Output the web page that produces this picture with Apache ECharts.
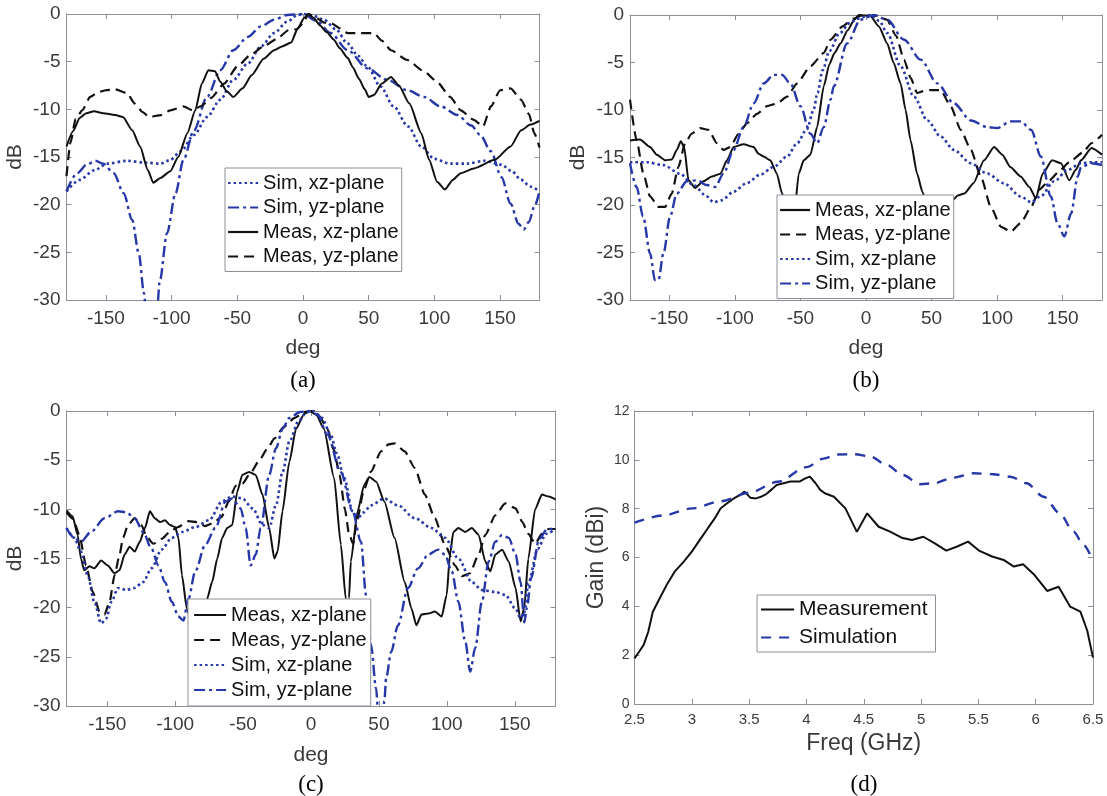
<!DOCTYPE html>
<html><head><meta charset="utf-8">
<script src="https://cdn.jsdelivr.net/npm/echarts@6/dist/echarts.min.js"></script>
<style>html,body{margin:0;padding:0;background:#fff;}#c{width:1107px;height:796px;}</style>
</head><body><div id="c"></div>
<script>
// ---------- tick labels ----------
const degTicks = [-150, -100, -50, 0, 50, 100, 150];
const panelCaptions = ['(a)', '(b)', '(c)', '(d)'];

// ---------- panel (a) : [deg, dB] ----------
const aSimXz = [[-180,-18.6],[-170,-17.4],[-159,-16.4],[-149,-15.7],[-134,-15.4],[-119,-15.6],[-108.5,-15.7],[-101,-15.3],[-93,-14.4],[-83,-12.7],[-73,-10.8],[-63,-9.0],[-53,-6.9],[-42,-5.2],[-32,-3.4],[-22,-2.0],[-12,-0.8],[-4,-0.1],[2,0],[8,-0.2],[16,-0.6],[25,-1.6],[34,-3.1],[42,-4.4],[49,-5.5],[59,-7.6],[69,-9.7],[80,-11.8],[90,-13.9],[100,-15.2],[112,-15.7],[125,-15.7],[138,-15.4],[151,-15.8],[159,-16.5],[166,-17.4],[173,-18.1],[180,-18.6]];
const aSimYz = [[-180,-18.6],[-172,-16.7],[-164.5,-15.8],[-158,-15.4],[-152,-15.7],[-144,-16.7],[-136.5,-18.8],[-130,-21.6],[-125,-25.1],[-121,-29.3],[-118,-35],[-115,-38],[-112,-33],[-109,-28],[-103.5,-23.0],[-97,-18.8],[-91,-15.3],[-83,-12.2],[-73,-8.7],[-63,-5.9],[-53,-3.8],[-42,-2.4],[-32,-1.3],[-22,-0.6],[-12,-0.1],[0,0],[10,-0.7],[21,-2.0],[34,-3.8],[49,-5.7],[64,-6.9],[79.5,-8.0],[92,-8.7],[105,-9.7],[117.6,-10.6],[128,-11.7],[135,-12.7],[143,-14.4],[151,-17.1],[158,-19.9],[164,-22.0],[168,-22.6],[172,-21.8],[176,-20.2],[180,-18.6]];
const aMeasXz = [[-180,-13.9],[-175,-12.3],[-170,-10.9],[-165,-10.4],[-159,-10.2],[-152,-10.4],[-143,-10.6],[-137,-10.8],[-130,-12.2],[-124,-13.9],[-118,-16.4],[-114,-17.7],[-108.5,-17.2],[-101,-16.5],[-95,-15.0],[-88,-12.5],[-82,-10.1],[-77,-7.3],[-72,-5.9],[-67,-6.0],[-63,-7.1],[-58,-8.1],[-53,-8.7],[-46,-7.8],[-39,-6.4],[-30,-4.7],[-22,-3.8],[-16,-3.4],[-9,-3.0],[-4,-1.5],[1,-0.4],[4,0],[8,-0.4],[13,-1.2],[18,-1.9],[23.5,-2.7],[28,-3.6],[34,-4.6],[38,-5.6],[42.6,-6.8],[47,-7.9],[50,-8.7],[54,-8.5],[60,-7.3],[67,-6.6],[73,-7.5],[81,-9.4],[90,-12.5],[96,-15.3],[102,-17.6],[108,-18.4],[114,-17.4],[120,-16.7],[130,-16.2],[146,-15.3],[158,-13.9],[166,-12.2],[173,-11.6],[180,-11.2]];
const aMeasYz = [[-180,-17.0],[-177,-13.5],[-173,-11],[-168,-10.1],[-162,-8.7],[-156,-8.2],[-150,-8.0],[-143,-7.9],[-134,-8.3],[-128,-9.4],[-122,-10.3],[-117,-10.8],[-108,-10.6],[-101,-10.1],[-91,-9.7],[-84,-10.1],[-78,-9.7],[-70,-8.8],[-60,-7.3],[-50,-5.5],[-40,-4.3],[-30,-3.4],[-20,-2.6],[-11,-1.7],[-5,-1.6],[0,-1.0],[4,0],[10,-0.4],[16,-0.9],[22,-1.0],[28,-1.5],[34,-2.0],[44,-2.0],[54,-2.0],[60,-2.8],[67,-3.8],[79,-4.8],[92,-6.0],[102,-7.1],[112,-8.7],[120,-10.1],[130,-11.1],[137,-11.8],[143,-9.7],[150,-8.0],[158,-7.8],[166,-9.0],[172,-10.5],[176,-12.5],[180,-14.0]];

// ---------- panel (b) ----------
const bMeasXz = [[-180,-13.2],[-172.4,-13.1],[-164.7,-13.9],[-159.6,-14.7],[-153,-15.3],[-148,-15.2],[-144.3,-14.2],[-141.3,-13.3],[-138.7,-13.9],[-135.4,-17.4],[-130.3,-18.2],[-124,-17.5],[-117.6,-17.0],[-111,-16.7],[-106,-15.3],[-101,-13.9],[-93.4,-13.6],[-85.7,-13.9],[-82,-14.6],[-78,-14.9],[-73,-15.3],[-68,-16.7],[-64,-18.8],[-59,-21],[-55,-21.5],[-51.3,-16.7],[-47.5,-15.3],[-42.4,-14.7],[-37.3,-11.8],[-32.2,-7.5],[-28,-5.2],[-24,-4.0],[-19.5,-3.0],[-14,-1.6],[-9,-0.5],[-5.5,0],[3.4,-0.1],[9.8,-1.2],[16.2,-3.0],[21,-5.0],[26.4,-7.2],[30.2,-10],[34,-13.2],[39,-16.7],[43,-18.6],[48,-21],[57,-22],[66,-19.5],[70,-19.0],[75,-18.8],[82,-17.7],[90,-15.3],[97.7,-13.9],[104,-14.7],[110,-16.0],[118,-17.0],[124.5,-18.1],[129.6,-19.3],[134.7,-16.7],[142,-15.3],[148.7,-15.6],[155,-17.4],[160,-16.3],[164,-15.3],[172,-14.0],[180,-14.7]];
const bMeasYz = [[-180,-8.9],[-174.9,-13.2],[-169.8,-16.7],[-164.7,-19.1],[-158.3,-20.2],[-153.2,-20.2],[-148.2,-18.8],[-143.1,-16.0],[-138,-13.5],[-133,-12.5],[-126.5,-11.9],[-120,-12.1],[-113.8,-13.5],[-108.7,-14.2],[-103.6,-13.9],[-97.2,-12.5],[-90.8,-11.4],[-83.2,-10.4],[-75.5,-9.6],[-68,-9.3],[-60.2,-8.6],[-52.6,-7.2],[-42.4,-5.4],[-32.2,-4.0],[-27,-2.6],[-18,-1.2],[-10,-0.4],[-2,0],[8,-0.1],[16,-0.5],[23,-2.2],[29,-4.7],[34,-6.6],[39,-8.2],[44,-8.0],[49,-7.9],[57,-7.9],[64.6,-9.6],[72.3,-12.1],[80,-14.2],[87.6,-17.0],[95.2,-20.2],[103,-22.3],[110.5,-22.8],[118,-21.9],[126,-20.2],[132,-18.4],[140,-17.4],[147,-16.5],[155,-15.5],[165,-14.5],[172,-13.5],[180,-12.6]];
const bSimXz = [[-180,-15.5],[-167,-15.5],[-154.5,-15.8],[-142,-16.7],[-131.6,-17.9],[-121.4,-19.1],[-116.3,-19.7],[-110,-19.5],[-101,-18.6],[-91,-17.7],[-80.6,-16.8],[-70.4,-16.0],[-60.2,-14.9],[-52.6,-13.5],[-45,-12.0],[-40,-10.0],[-37,-8.2],[-33,-5.8],[-28,-3.8],[-20,-1.9],[-12,-0.8],[-6.8,-0.4],[3.4,0],[10,-0.6],[16.2,-1.9],[26.4,-5.4],[36.6,-8.6],[46.8,-11.1],[57,-12.8],[67,-14.2],[80,-15.6],[92.6,-16.7],[105,-17.7],[118,-19.1],[126,-19.7],[133,-19.1],[143.6,-17.5],[153.8,-16.3],[164,-15.6],[172,-15.5],[180,-15.5]];
const bSimYz = [[-180,-15.6],[-175,-18.1],[-170,-21.2],[-164.7,-25.1],[-161,-27.9],[-158.3,-27.9],[-154.5,-25.1],[-149.4,-21.2],[-144.3,-18.8],[-136.7,-17.5],[-129,-17.4],[-121.4,-17.9],[-115,-18.1],[-108.7,-16.7],[-101,-14.2],[-93.4,-11.8],[-85.7,-9.3],[-78,-7.2],[-70.4,-6.3],[-64,-6.3],[-57.7,-7.2],[-50,-9.6],[-42.4,-12.5],[-37.3,-13.5],[-32.2,-11.8],[-27,-8.9],[-24.6,-7.5],[-14.4,-3.0],[-4.2,-0.5],[6,0],[16.2,-0.5],[29,-2.6],[41.7,-4.7],[54.4,-7.2],[67,-9.3],[80,-11.1],[92.6,-11.8],[100,-11.9],[110.4,-11.2],[118,-11.2],[126,-12.1],[133.4,-14.9],[141,-19.1],[146,-21.9],[151.3,-23.3],[156.4,-20.9],[161.5,-17.0],[164,-16.0],[172,-15.6],[180,-15.8]];

// ---------- panel (c) ----------
const cMeasXz = [[-180,-10.1],[-175.5,-10.7],[-171.8,-12.6],[-169.4,-15.0],[-167,-16.2],[-163,-15.8],[-159.5,-16.0],[-154.5,-15.2],[-149.6,-15.7],[-144.6,-16.5],[-141,-16.2],[-137.2,-14.6],[-133.5,-13.8],[-129.8,-14.3],[-126,-13.3],[-122.3,-11.9],[-118.6,-10.2],[-115,-10.9],[-111,-11.3],[-107.5,-11.1],[-103.8,-11.6],[-100,-11.8],[-97.6,-12.9],[-95,-16.7],[-91.4,-20.1],[-87,-22],[-82,-22],[-78,-20.5],[-76.5,-19.1],[-72.8,-17.4],[-69,-15.0],[-65.4,-12.9],[-61.7,-11.9],[-58,-11.6],[-54.3,-8.2],[-50.6,-6.5],[-45.6,-6.2],[-40.7,-6.5],[-35.7,-8.5],[-30.8,-11.9],[-27,-15.0],[-24.6,-14.3],[-21,-10.2],[-16,-5.2],[-11,-1.8],[-5,-0.3],[-1,0],[4,-0.4],[9.5,-1.8],[17,-6.8],[22,-13.6],[25.6,-19.1],[27,-21],[28,-19],[29.3,-15.3],[34.3,-10.2],[39.2,-7.5],[43,-6.7],[48,-7.2],[54,-9.2],[61.5,-12.9],[69,-17.4],[74,-20.1],[77.6,-21.8],[81.3,-20.7],[86.3,-20.6],[91.2,-20.4],[96.2,-20.9],[99.9,-18.7],[102.3,-14.6],[104.8,-12.3],[108.5,-11.9],[113.5,-12.3],[118.4,-11.9],[123.4,-12.6],[128.3,-15.3],[132,-16.3],[135.7,-14.6],[140.7,-14.1],[145.6,-15.3],[150.6,-18.0],[154.3,-21.4],[157,-20],[160,-15],[165,-10],[170,-8.5],[175,-8.7],[180,-9]];
const cMeasYz = [[-180,-10.3],[-175,-11],[-170.6,-12.6],[-165.6,-15.7],[-160.7,-18.4],[-155.7,-20.4],[-152,-20.7],[-148.3,-19.4],[-144.6,-16.7],[-140.9,-14.6],[-138.4,-12.9],[-134.7,-11.6],[-129.8,-10.9],[-124.8,-11.6],[-121,-12.8],[-116,-13.5],[-110,-13.0],[-104,-12.3],[-98,-11.8],[-90,-11.2],[-84,-11.3],[-78,-11.7],[-72,-11.4],[-66,-10.8],[-60.5,-9.2],[-55.5,-7.6],[-50.6,-7.4],[-44,-6.2],[-38,-5.0],[-32,-3.8],[-27,-2.8],[-20,-1.6],[-12,-0.7],[-5,-0.1],[0,0],[6,-0.5],[12,-1.8],[17,-4.0],[21,-6.5],[25,-10],[28,-12.5],[31,-13.5],[34,-11],[39,-8.0],[44,-6.2],[51.6,-4.1],[57,-3.4],[61.5,-3.3],[69,-4.1],[76.4,-5.8],[83.8,-8.5],[91.2,-10.9],[98.6,-13.6],[106,-15.7],[111,-16.8],[117,-16.5],[123.4,-14.6],[128.3,-12.6],[135.7,-10.6],[143,-9.4],[150.6,-9.9],[155.6,-11.3],[160,-12.5],[165,-13.5],[170,-12.5],[175,-12],[180,-12]];
const cSimXz = [[-180,-11.9],[-174.3,-12.9],[-169.4,-14.3],[-164.4,-16.7],[-159.5,-19.4],[-154.5,-21.6],[-150.8,-21.1],[-147,-19.4],[-142,-18.0],[-136,-18.2],[-130,-18.0],[-123.6,-17.4],[-117.4,-16.0],[-110,-14.1],[-102.5,-12.9],[-95,-12.3],[-85,-11.8],[-75,-11.1],[-65.4,-9.2],[-58,-8.7],[-50.6,-8.9],[-43,-9.9],[-35.7,-11.6],[-30.8,-11.9],[-25.8,-9.6],[-20.9,-6.2],[-15.9,-3.1],[-9,-1.0],[-3,-0.1],[2,0],[8,-0.7],[14.5,-2.4],[19,-4.3],[24.4,-6.8],[30.6,-10.2],[35,-10.8],[39,-10.3],[44,-9.6],[54,-8.9],[64,-9.6],[76.4,-10.9],[88.8,-11.9],[98.6,-12.9],[108.5,-15.0],[118.4,-17.4],[125.8,-18.2],[135.7,-18.4],[143,-18.7],[150.6,-20.1],[154.3,-21.1],[157,-20.5],[160,-17.5],[167,-14],[173,-12.5],[180,-12]];
const cSimYz = [[-180,-11.9],[-174.3,-12.9],[-169.4,-13.3],[-162,-12.3],[-152,-10.9],[-142,-10.2],[-136,-10.3],[-129.8,-10.9],[-123.6,-12.3],[-117.4,-14.0],[-112.4,-15.7],[-107.5,-17.4],[-102.5,-19.4],[-97.6,-20.9],[-94,-21.3],[-90.2,-19.1],[-85.2,-16.3],[-77.8,-13.6],[-70.4,-11.9],[-62.9,-9.2],[-58,-8.9],[-51.8,-9.9],[-48.1,-11.9],[-44.4,-15.7],[-40.7,-14.6],[-37,-11.9],[-30.8,-6.5],[-25.8,-3.8],[-20.9,-1.8],[-15.9,-0.7],[-8,-0.1],[-1,0],[5,-0.4],[12,-2.4],[21.9,-6.2],[30.6,-10.2],[36.8,-13.3],[40.5,-18.7],[44.2,-23.8],[47.9,-28.2],[50,-32],[52,-33],[54,-29.5],[55.3,-27.2],[59,-24.5],[64,-21.8],[71.4,-18.0],[78.8,-16.0],[86.3,-14.6],[93.7,-14.1],[98.6,-14.6],[103.6,-16.3],[108.5,-19.4],[113.5,-23.4],[117.2,-26.5],[120.9,-24.1],[125.8,-19.4],[130.8,-15.3],[135.7,-13.3],[140.7,-12.6],[145.6,-12.9],[150.6,-14.6],[154.3,-17.4],[157,-21.5],[159,-20],[162,-17],[168,-13],[174,-12],[180,-12]];

// ---------- panel (d) : [GHz, dBi] ----------
const dMeasurement = [[2.5,1.87],[2.54,2.14],[2.58,2.42],[2.62,2.96],[2.66,3.78],[2.72,4.33],[2.78,4.87],[2.85,5.42],[2.93,5.83],[3.0,6.24],[3.07,6.72],[3.14,7.2],[3.2,7.6],[3.25,8.01],[3.3,8.19],[3.36,8.4],[3.42,8.56],[3.46,8.7],[3.51,8.45],[3.56,8.42],[3.61,8.5],[3.65,8.6],[3.7,8.8],[3.74,8.97],[3.8,9.04],[3.86,9.11],[3.94,9.11],[3.99,9.24],[4.03,9.31],[4.08,9.04],[4.12,8.77],[4.16,8.63],[4.24,8.49],[4.34,8.01],[4.44,7.05],[4.53,7.81],[4.63,7.26],[4.73,7.06],[4.83,6.81],[4.92,6.72],[5.02,6.85],[5.12,6.58],[5.22,6.28],[5.31,6.44],[5.41,6.65],[5.51,6.27],[5.62,6.04],[5.72,5.9],[5.81,5.63],[5.89,5.72],[5.99,5.28],[6.1,4.63],[6.2,4.8],[6.3,3.99],[6.39,3.78],[6.45,3.0],[6.5,1.9]];
const dSimulation = [[2.5,7.43],[2.75,7.72],[3.0,8.01],[3.25,8.3],[3.5,8.65],[3.75,9.1],[4.0,9.7],[4.15,10.05],[4.27,10.22],[4.42,10.23],[4.56,10.13],[4.7,9.79],[4.84,9.38],[4.99,9.0],[5.11,9.04],[5.28,9.27],[5.46,9.45],[5.63,9.41],[5.78,9.31],[5.92,9.04],[6.07,8.49],[6.21,7.81],[6.33,7.06],[6.42,6.5],[6.5,5.85]];

// ---------- styling ----------
const FONT = '"Liberation Sans", Arial, sans-serif';
const AX = '#8b9098';
const LAB = '#3a3a3a';
const BLUE = '#2637a8';
const BLACK = '#111111';
const ST = {
  measXz: {color: BLACK, width: 2, type: 'solid'},
  measYz: {color: BLACK, width: 2.2, type: [10, 6]},
  simXz:  {color: BLUE, width: 2.6, type: [2.5, 3]},
  simYz:  {color: BLUE, width: 2.4, type: [11, 4, 3, 4]},
  simD:   {color: BLUE, width: 2.4, type: [10, 8]}
};

const grids = [
  {left: 66.5, top: 14, width: 473, height: 286},
  {left: 630, top: 15, width: 472, height: 285},
  {left: 66.5, top: 411, width: 489, height: 295},
  {left: 634.5, top: 411, width: 458.5, height: 293}
].map(g => Object.assign({outerBoundsMode: 'none', containLabel: false}, g));

function boxAxis(base, pos, extra) {
  return Object.assign({
    type: 'value', position: pos,
    axisLine: {show: true, onZero: false, lineStyle: {color: AX, width: 1}},
    axisTick: {show: true, inside: true, length: 5, lineStyle: {color: AX, width: 1}},
    splitLine: {show: false},
    axisLabel: {show: false}
  }, base, extra || {});
}

const xAxes = [], yAxes = [];
[0, 1, 2].forEach(g => {
  const deg = {gridIndex: g, min: -180, max: 180};
  xAxes.push(boxAxis(deg, 'bottom', {
    axisTick: {show: true, inside: true, length: 5, customValues: degTicks, lineStyle: {color: AX}},
    axisLabel: {show: true, customValues: degTicks, fontSize: 19, color: LAB, margin: 9, fontFamily: FONT},
    name: 'deg', nameLocation: 'middle', nameGap: g === 2 ? 39 : 38, nameMoveOverlap: false,
    nameTextStyle: {fontSize: 21, color: LAB, fontFamily: FONT}
  }));
  xAxes.push(boxAxis(deg, 'top', {
    axisTick: {show: true, inside: true, length: 5, customValues: degTicks, lineStyle: {color: AX}}
  }));
  const db = {gridIndex: g, min: -30, max: 0, interval: 5};
  yAxes.push(boxAxis(db, 'left', {
    axisLabel: {show: true, fontSize: 19, color: LAB, margin: 6, fontFamily: FONT},
    name: 'dB', nameLocation: 'middle', nameGap: 41, nameMoveOverlap: false,
    nameTextStyle: {fontSize: 21, color: LAB, fontFamily: FONT}
  }));
  yAxes.push(boxAxis(db, 'right'));
});
const fq = {gridIndex: 3, min: 2.5, max: 6.5, interval: 0.5};
xAxes.push(boxAxis(fq, 'bottom', {
  axisLabel: {show: true, fontSize: 15, color: LAB, margin: 8, fontFamily: FONT},
  name: 'Freq (GHz)', nameLocation: 'middle', nameGap: 28, nameMoveOverlap: false,
  nameTextStyle: {fontSize: 23, color: LAB, fontFamily: FONT}
}));
xAxes.push(boxAxis(fq, 'top'));
const gn = {gridIndex: 3, min: 0, max: 12, interval: 2};
yAxes.push(boxAxis(gn, 'left', {
  axisLabel: {show: true, fontSize: 14, color: LAB, margin: 5, fontFamily: FONT},
  name: 'Gain (dBi)', nameLocation: 'middle', nameGap: 26, nameMoveOverlap: false,
  nameTextStyle: {fontSize: 23, color: LAB, fontFamily: FONT}
}));
yAxes.push(boxAxis(gn, 'right'));

function line(name, data, g, st, smooth) {
  return {
    type: 'line', name: name, data: data,
    xAxisIndex: 2 * g, yAxisIndex: 2 * g,
    symbol: 'none', smooth: smooth, smoothMonotone: 'x', clip: true,
    lineStyle: {color: st.color, width: st.width, type: st.type},
    itemStyle: {color: st.color},
    emphasis: {disabled: true}, z: 2
  };
}

const series = [
  line('Sim, xz-plane', aSimXz, 0, ST.simXz, 0.3),
  line('Sim, yz-plane', aSimYz, 0, ST.simYz, 0.3),
  line('Meas, xz-plane', aMeasXz, 0, ST.measXz, 0.2),
  line('Meas, yz-plane', aMeasYz, 0, ST.measYz, 0.2),
  line('Meas, xz-plane', bMeasXz, 1, ST.measXz, 0.2),
  line('Meas, yz-plane', bMeasYz, 1, ST.measYz, 0.2),
  line('Sim, xz-plane', bSimXz, 1, ST.simXz, 0.3),
  line('Sim, yz-plane', bSimYz, 1, ST.simYz, 0.3),
  line('Meas, xz-plane', cMeasXz, 2, ST.measXz, 0.2),
  line('Meas, yz-plane', cMeasYz, 2, ST.measYz, 0.2),
  line('Sim, xz-plane', cSimXz, 2, ST.simXz, 0.3),
  line('Sim, yz-plane', cSimYz, 2, ST.simYz, 0.3),
  line('Measurement', dMeasurement, 3, ST.measXz, false),
  line('Simulation', dSimulation, 3, ST.simD, 0.3)
];

function legend(names, left, top, padding, itemWidth, itemGap, fs) {
  return {
    data: names, left: left, top: top, orient: 'vertical',
    padding: padding, itemWidth: itemWidth, itemHeight: 12, itemGap: itemGap,
    backgroundColor: '#ffffff', borderColor: AX, borderWidth: 1, borderRadius: 0,
    selectedMode: false, z: 10,
    itemStyle: {color: 'rgba(0,0,0,0)', borderWidth: 0, opacity: 0},
    lineStyle: {width: 2.2},
    textStyle: {fontSize: fs, lineHeight: fs, color: '#111', fontFamily: FONT}
  };
}
const legA = ['Sim, xz-plane', 'Sim, yz-plane', 'Meas, xz-plane', 'Meas, yz-plane'];
const legBC = ['Meas, xz-plane', 'Meas, yz-plane', 'Sim, xz-plane', 'Sim, yz-plane'];
const legD = ['Measurement', 'Simulation'];

const capPos = [[303, 369], [866, 369], [311, 773], [864, 773]];
const titles = panelCaptions.map((t, i) => ({
  text: t, left: capPos[i][0], top: capPos[i][1], textAlign: 'center', padding: 0,
  textStyle: {fontFamily: '"Liberation Serif", "Times New Roman", serif', fontSize: 23, fontWeight: 'normal', color: '#000'}
}));

const chart = echarts.init(document.getElementById('c'), null, {renderer: 'canvas'});
chart.setOption({
  animation: false,
  backgroundColor: '#ffffff',
  title: titles,
  grid: grids,
  xAxis: xAxes,
  yAxis: yAxes,
  legend: [
    legend(legA, 225, 168, [5, 3, 5, 2], 30, 4.5, 20),
    legend(legBC, 777, 195, [5, 3, 5, 2], 30, 4.5, 20),
    legend(legBC, 188, 599, [6, 4, 6, 5], 32, 5, 20),
    legend(legD, 757, 595, [4, 8, 4, 3], 33, 7, 21)
  ],
  series: series
});
</script>
</body></html>
